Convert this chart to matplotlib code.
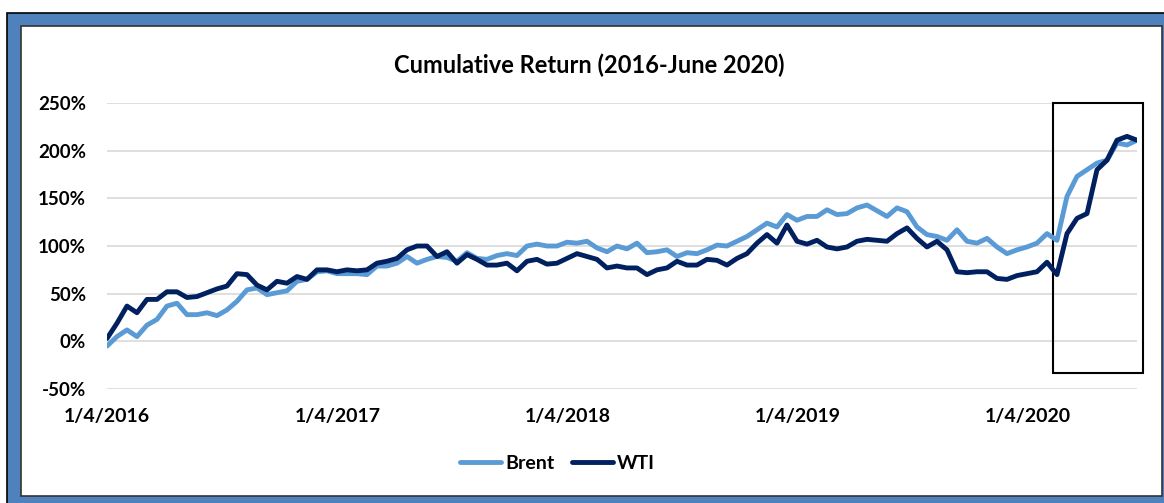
import pandas as pd
import matplotlib
matplotlib.use("Agg")
import matplotlib.pyplot as plt
from matplotlib.patches import Rectangle

# cumulative return in %, every 16 calendar days
brent = [-5, 5, 12, 5, 17, 23, 37, 40, 28, 28, 30, 27, 33, 42, 54, 56, 49, 51, 53, 63,
         65, 73, 74, 71, 71, 71, 70, 79, 79, 82, 89, 82, 86, 89, 88, 84, 93, 87, 86, 90,
         92, 90, 100, 102, 100, 100, 104, 103, 105, 98, 94, 100,
         97, 103, 93, 94, 96, 89, 93, 92, 96, 101, 100, 105, 110, 117, 124, 120, 133, 127,
         131, 131, 138, 133, 134, 140, 143, 137, 131, 140, 136, 120, 112, 110, 106, 117,
         105, 103, 108, 99, 92, 96, 99, 103, 113, 106, 152, 173, 180, 187, 190, 208, 206, 211]
wti = [3, 19, 37, 30, 44, 44, 52, 52, 46, 47, 51, 55, 58, 71, 70, 59, 54, 63, 61, 68,
       65, 75, 75, 73, 75, 74, 75, 82, 84, 87, 96, 100, 100, 89, 94, 82, 91, 86, 80, 80,
       82, 74, 84, 86, 81, 82, 87, 92, 89, 86, 77, 79,
       77, 77, 70, 75, 77, 84, 80, 80, 86, 85, 80, 87, 92, 103, 112, 103, 122, 105,
       102, 106, 99, 97, 99, 105, 107, 106, 105, 113, 119, 108, 99, 105, 96, 73,
       72, 73, 73, 66, 65, 69, 71, 73, 83, 70, 113, 129, 134, 180, 190, 211, 215, 211]
dates = pd.date_range("2016-01-04", "2020-06-25", periods=len(brent))

tick_dates = pd.to_datetime(["2016-01-04", "2017-01-04", "2018-01-04", "2019-01-04", "2020-01-04"])
tick_labels = ["1/4/2016", "1/4/2017", "1/4/2018", "1/4/2019", "1/4/2020"]
y_ticks = [-50, 0, 50, 100, 150, 200, 250]

plt.rcParams["font.family"] = ["Lato", "DejaVu Sans"]
plt.rcParams["font.weight"] = "bold"

fig = plt.figure(figsize=(11.64, 5.03), dpi=100)

# blue outer frame and white inner panel
fig.add_artist(Rectangle((0.006, -0.05), 1.05, 1.024, transform=fig.transFigure,
                         fc="#4F81BD", ec="black", lw=1.2, zorder=-3))
fig.add_artist(Rectangle((0.018, 0.0139), 0.9803, 0.9341, transform=fig.transFigure,
                         fc="white", ec="#333333", lw=1.2, zorder=-2))

ax = fig.add_axes([0.0919, 0.2266, 0.8849, 0.5686])
ax.set_facecolor("none")

ax.plot(dates, brent, color="#5B9BD5", lw=3.5, label="Brent", solid_capstyle="round")
ax.plot(dates, wti, color="#002060", lw=3.5, label="WTI", solid_capstyle="round")

ax.set_ylim(-50, 250)
ax.set_yticks(y_ticks)
ax.set_yticklabels([f"{v}%" for v in y_ticks], fontsize=13.5, fontweight="bold")
ax.set_xlim(dates[0], dates[-1])
ax.set_xticks(tick_dates)
ax.set_xticklabels(tick_labels, fontsize=14, fontweight="bold")
ax.tick_params(axis="both", length=0)
ax.tick_params(axis="y", pad=15)
ax.tick_params(axis="x", pad=14)
ax.grid(axis="y", color="#D9D9D9", lw=1.2)
ax.set_axisbelow(True)
for s in ax.spines.values():
    s.set_visible(False)

# highlight box around the 2020 rally
ax.add_patch(Rectangle((0.918, 0.056), 0.088, 0.944, transform=ax.transAxes,
                       fill=False, ec="black", lw=1.5, clip_on=False))

fig.text(0.506, 0.871, "Cumulative Return (2016-June 2020)", ha="center", va="center",
         fontsize=17, fontweight="bold")

fig.legend(loc="center", bbox_to_anchor=(0.479, 0.0795), ncol=2, frameon=False,
           handlelength=2.1, handletextpad=0.2, columnspacing=0.9,
           prop={"weight": "bold", "size": 14})

fig.savefig("out.png", dpi=100)
